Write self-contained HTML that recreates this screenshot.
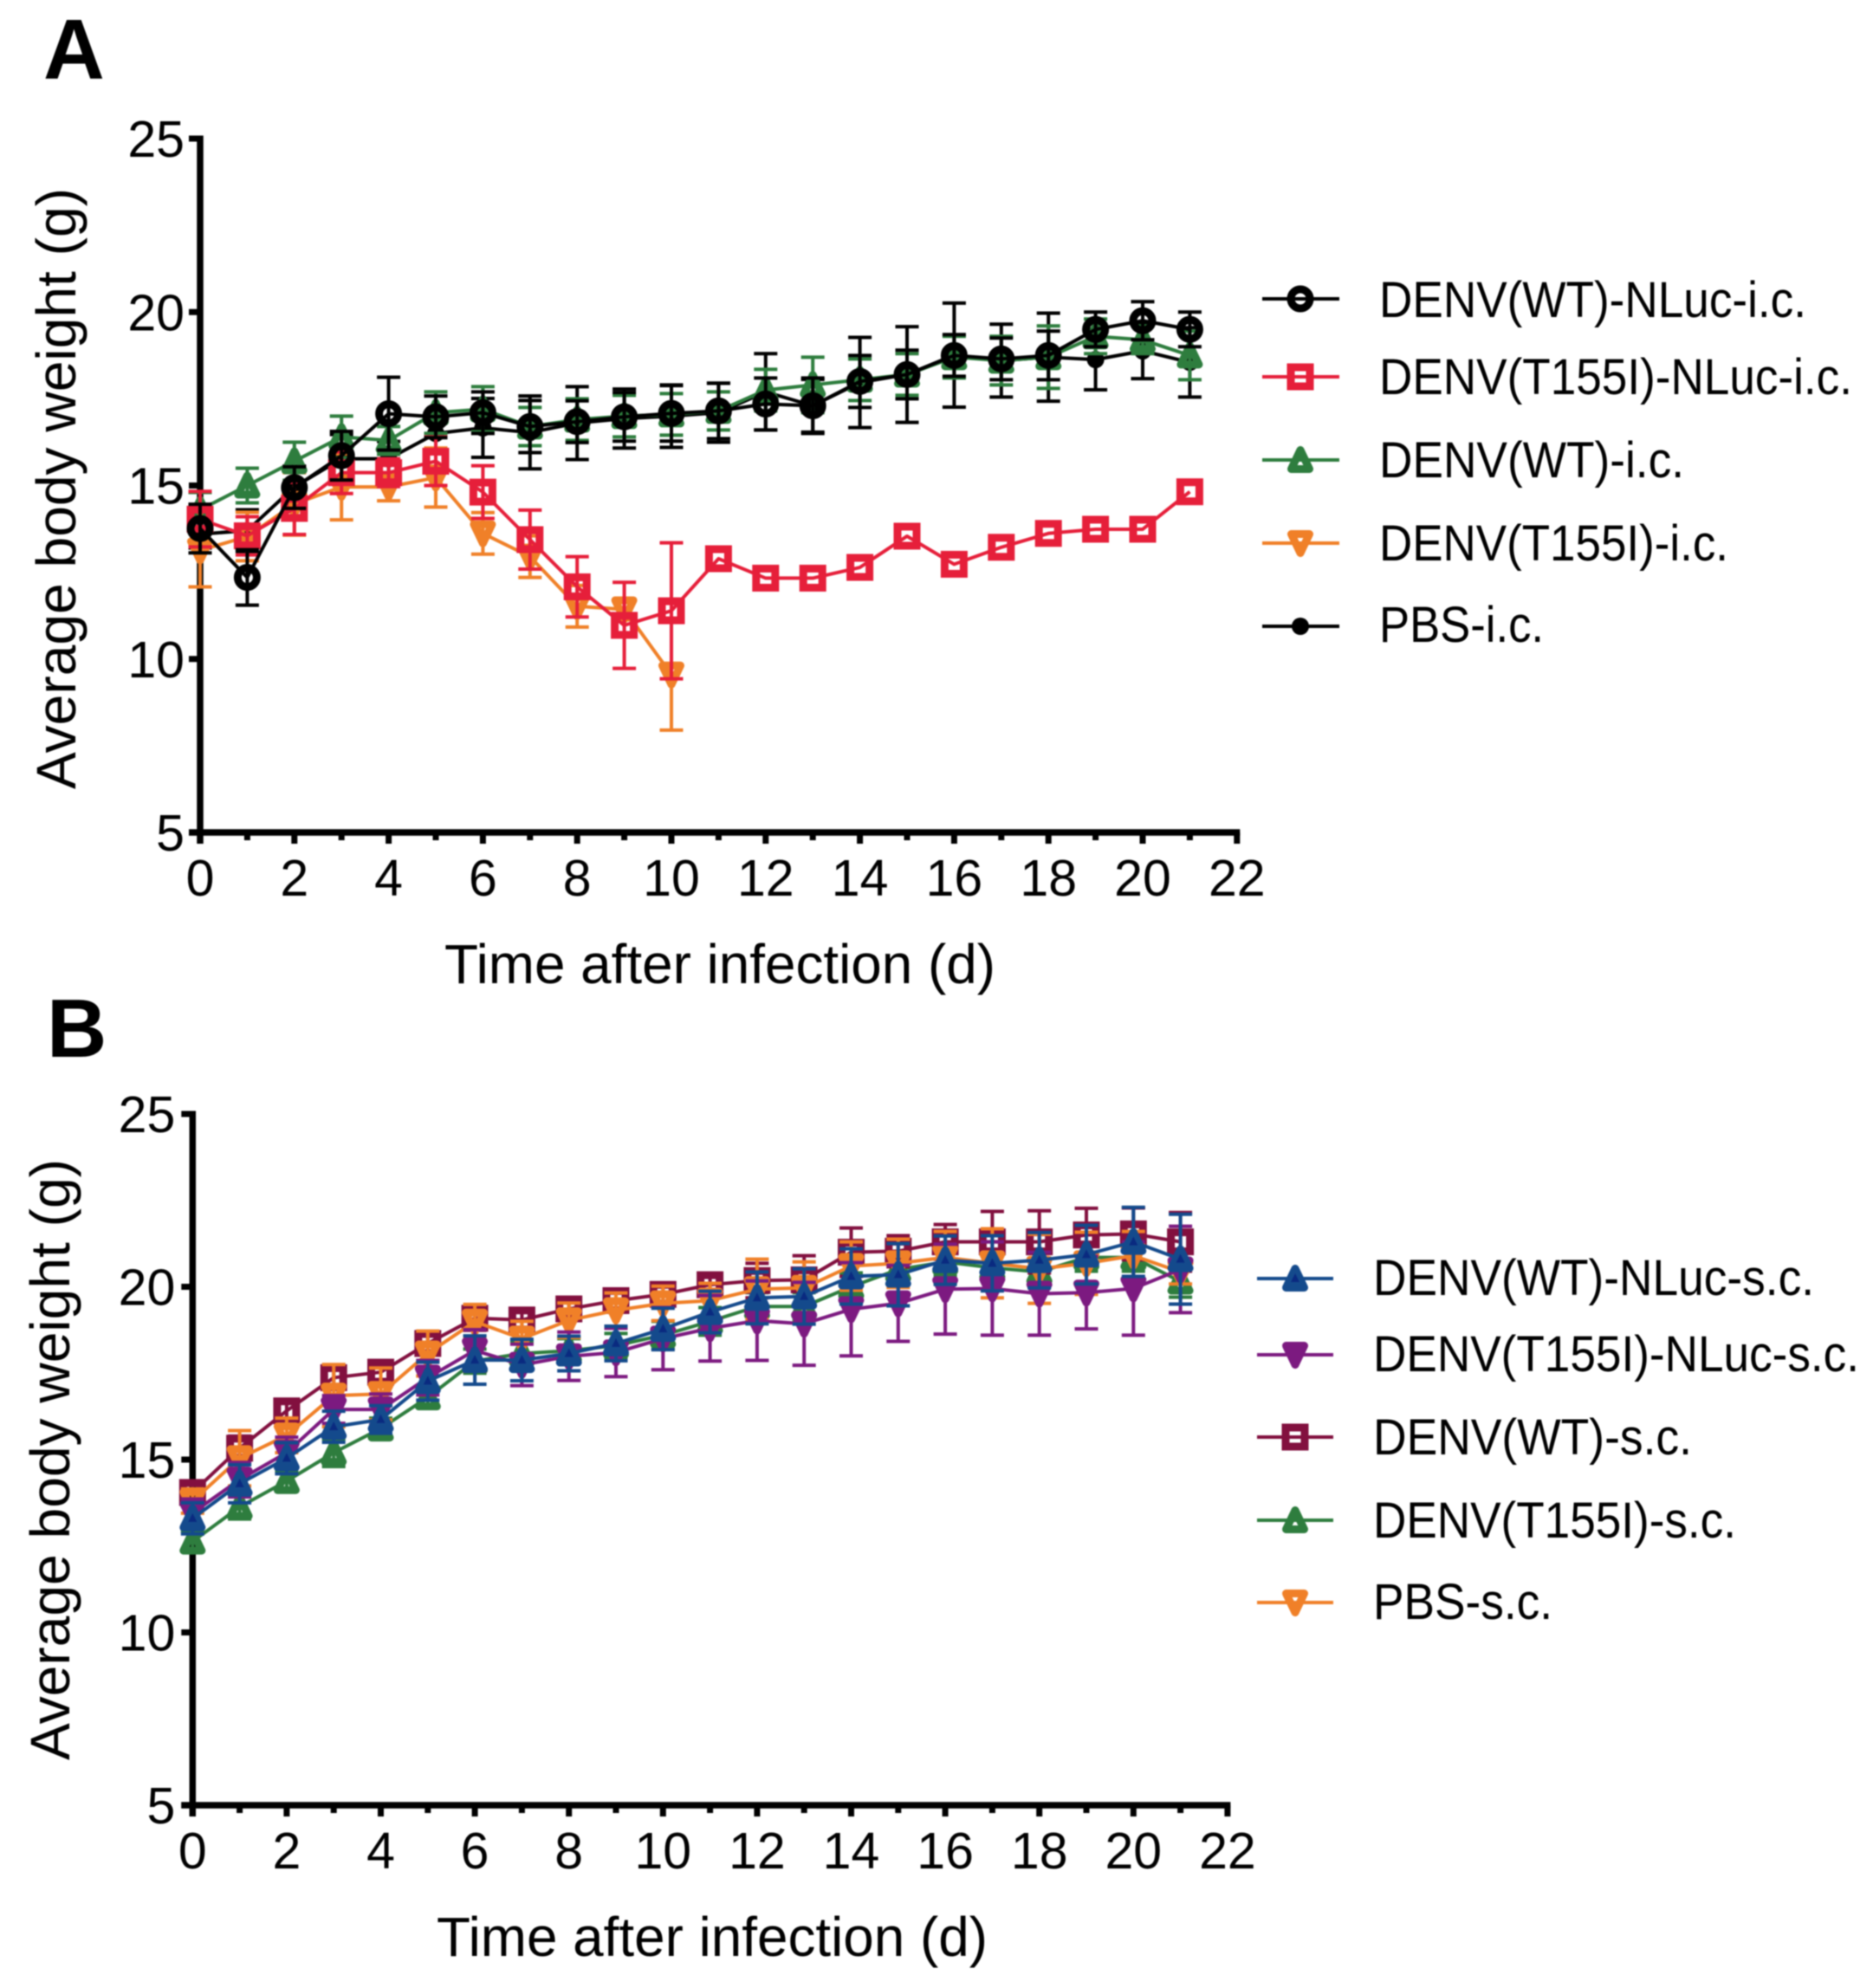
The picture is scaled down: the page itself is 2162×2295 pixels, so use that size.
<!DOCTYPE html>
<html lang="en">
<head>
<meta charset="utf-8">
<title>Average body weight after infection</title>
<style>
html,body{margin:0;padding:0;background:#fff;}
svg{display:block;font-family:"Liberation Sans",Arial,sans-serif;filter:blur(0.7px);}
</style>
</head>
<body>
<svg id="fig" xmlns="http://www.w3.org/2000/svg" width="2162" height="2295" viewBox="0 0 2162 2295">
  <rect x="0" y="0" width="2162" height="2295" fill="#fff"/>
  <text x="50" y="91" font-size="98" font-weight="700" fill="#000">A</text>
  <text x="54" y="1220" font-size="96" font-weight="700" fill="#000">B</text>

  <g id="chartA"></g>
  <g id="chartB"></g>

  <g font-size="58" fill="#000">
    <g>
      <line x1="1457" x2="1546" y1="345" y2="345" stroke="#000" stroke-width="4"/>
      <g class="lm" data-x="1501" data-y="345" data-shape="circle" data-color="#000"></g>
      <text x="1592" y="366" textLength="493" lengthAdjust="spacingAndGlyphs">DENV(WT)-NLuc-i.c.</text>
    </g>
    <g>
      <line x1="1457" x2="1546" y1="435" y2="435" stroke="#e61f3a" stroke-width="4"/>
      <g class="lm" data-x="1501" data-y="435" data-shape="square" data-color="#e61f3a"></g>
      <text x="1592" y="455" textLength="546" lengthAdjust="spacingAndGlyphs">DENV(T155I)-NLuc-i.c.</text>
    </g>
    <g>
      <line x1="1457" x2="1546" y1="531" y2="531" stroke="#2e7d3e" stroke-width="4"/>
      <g class="lm" data-x="1501" data-y="531" data-shape="tri-up" data-color="#2e7d3e"></g>
      <text x="1592" y="551" textLength="352" lengthAdjust="spacingAndGlyphs">DENV(WT)-i.c.</text>
    </g>
    <g>
      <line x1="1457" x2="1546" y1="627" y2="627" stroke="#f08028" stroke-width="4"/>
      <g class="lm" data-x="1501" data-y="627" data-shape="tri-down" data-color="#f08028"></g>
      <text x="1592" y="647" textLength="403" lengthAdjust="spacingAndGlyphs">DENV(T155I)-i.c.</text>
    </g>
    <g>
      <line x1="1457" x2="1546" y1="723" y2="723" stroke="#000" stroke-width="4"/>
      <g class="lm" data-x="1501" data-y="723" data-shape="dot" data-color="#000"></g>
      <text x="1592" y="741" textLength="190" lengthAdjust="spacingAndGlyphs">PBS-i.c.</text>
    </g>
  </g>

  <g font-size="58" fill="#000">
    <g>
      <line x1="1451" x2="1539" y1="1476" y2="1476" stroke="#144a8c" stroke-width="4"/>
      <g class="lm" data-x="1495" data-y="1476" data-shape="tri-up-solid" data-color="#144a8c"></g>
      <text x="1585" y="1495" textLength="509" lengthAdjust="spacingAndGlyphs">DENV(WT)-NLuc-s.c.</text>
    </g>
    <g>
      <line x1="1451" x2="1539" y1="1564" y2="1564" stroke="#7c1a80" stroke-width="4"/>
      <g class="lm" data-x="1495" data-y="1564" data-shape="tri-down-solid" data-color="#7c1a80"></g>
      <text x="1585" y="1583" textLength="561" lengthAdjust="spacingAndGlyphs">DENV(T155I)-NLuc-s.c.</text>
    </g>
    <g>
      <line x1="1451" x2="1539" y1="1659" y2="1659" stroke="#82103f" stroke-width="4"/>
      <g class="lm" data-x="1495" data-y="1659" data-shape="square" data-color="#82103f"></g>
      <text x="1585" y="1679" textLength="368" lengthAdjust="spacingAndGlyphs">DENV(WT)-s.c.</text>
    </g>
    <g>
      <line x1="1451" x2="1539" y1="1755" y2="1755" stroke="#2e7d3e" stroke-width="4"/>
      <g class="lm" data-x="1495" data-y="1755" data-shape="tri-up" data-color="#2e7d3e"></g>
      <text x="1585" y="1775" textLength="419" lengthAdjust="spacingAndGlyphs">DENV(T155I)-s.c.</text>
    </g>
    <g>
      <line x1="1451" x2="1539" y1="1850" y2="1850" stroke="#f08028" stroke-width="4"/>
      <g class="lm" data-x="1495" data-y="1850" data-shape="tri-down" data-color="#f08028"></g>
      <text x="1585" y="1869" textLength="207" lengthAdjust="spacingAndGlyphs">PBS-s.c.</text>
    </g>
  </g>
</svg>

<script>
// Shared axis data
const days = [0,1,2,3,4,5,6,7,8,9,10,11,12,13,14,15,16,17,18,19,20,21];
const xTickValues = [0,1,2,3,4,5,6,7,8,9,10,11,12,13,14,15,16,17,18,19,20,21,22];
const yTickValues = [5,10,15,20,25];
const xAxisTitle = "Time after infection (d)";
const yAxisTitle = "Average body weight (g)";

// Panel A values (g)
const aWtNlucMean = [13.76,12.35,14.94,15.86,17.07,16.98,17.1,16.7,16.84,16.98,17.08,17.15,17.35,17.3,18.0,18.2,18.75,18.65,18.75,19.5,19.75,19.5];
const aWtNlucErr  = [0.7,0.8,0.6,0.7,1.05,0.6,0.6,0.75,0.6,0.7,0.8,0.8,0.75,0.8,0.75,0.7,0.6,0.6,0.7,0.5,0.55,0.5];
const aT155NlucMean = [14.03,13.55,14.34,15.37,15.37,15.7,14.81,13.44,12.08,10.97,11.39,12.89,12.33,12.33,12.64,13.54,12.73,13.22,13.62,13.74,13.74,14.82];
const aT155NlucErr  = [0.8,0.55,0.75,0.6,0.4,0.7,0.76,0.85,0.87,1.24,1.96,0,0,0,0,0,0,0,0,0,0,0];
const aWtMean = [14.3,15.0,15.7,16.4,16.3,17.1,17.2,16.7,16.9,17.0,17.05,17.15,17.75,17.9,18.05,18.2,18.7,18.6,18.7,19.3,19.2,18.75];
const aWtErr  = [0.5,0.5,0.55,0.6,0.4,0.6,0.65,0.55,0.6,0.6,0.6,0.55,0.6,0.8,0.6,0.6,0.6,0.7,0.9,0.5,0.4,0.7];
const aT155Mean = [13.13,13.53,14.47,14.96,14.96,15.23,13.62,12.95,11.52,11.43,9.55];
const aT155Err  = [1.05,0.7,0.9,0.95,0.4,0.85,0.6,0.6,0.6,0.3,1.6];
const aPbsMean = [13.6,13.7,14.96,15.77,15.77,16.5,16.66,16.53,16.8,16.93,17.0,17.1,17.7,17.3,17.97,18.2,18.76,18.6,18.7,18.63,18.88,18.55];
const aPbsErr  = [0.4,0.6,0.6,0.7,0.5,0.5,0.85,1.05,1.05,0.85,0.9,0.85,1.1,0.76,1.3,1.38,1.5,1.05,1.27,0.87,0.8,1.0];

// Panel B values (g)
const bWtNlucMean = [13.3,14.3,15.04,15.95,16.16,17.27,17.88,17.88,18.07,18.36,18.78,19.27,19.68,19.72,20.3,20.35,20.77,20.68,20.77,20.93,21.3,20.8];
const bWtNlucErr  = [0.45,0.55,0.45,0.45,0.4,0.55,0.7,0.6,0.5,0.5,0.6,0.6,0.75,0.8,0.8,0.9,0.7,0.8,0.8,0.85,1.0,1.3];
const bT155NlucMean = [13.46,14.42,15.2,16.45,16.45,17.37,18.16,17.74,17.99,18.1,18.5,18.8,19.02,18.93,19.35,19.52,19.93,19.95,19.8,19.83,19.95,20.5];
const bT155NlucErr  = [0.4,0.5,0.45,0.4,0.45,0.5,0.6,0.6,0.7,0.7,0.9,0.95,1.15,1.2,1.35,1.1,1.3,1.35,1.2,1.05,1.35,1.25];
const bWtMean = [14.05,15.33,16.41,17.37,17.53,18.36,19.09,19.04,19.36,19.6,19.78,20.06,20.18,20.2,21.0,21.03,21.3,21.3,21.3,21.5,21.53,21.3];
const bWtErr  = [0.3,0.35,0.3,0.3,0.3,0.3,0.35,0.3,0.3,0.3,0.3,0.3,0.5,0.7,0.7,0.45,0.5,0.88,0.9,0.77,0.75,0.85];
const bT155Mean = [12.63,13.63,14.38,15.2,15.9,16.8,17.85,18.07,18.15,18.3,18.6,19.0,19.43,19.43,20.0,20.5,20.72,20.55,20.43,20.85,20.85,20.15];
const bT155Err  = [0.3,0.35,0.3,0.4,0.3,0.3,0.35,0.35,0.35,0.35,0.4,0.4,0.4,0.4,0.4,0.4,0.4,0.4,0.4,0.4,0.4,0.45];
const bPbsMean = [13.8,15.04,15.7,16.85,16.9,18.07,18.99,18.5,19.03,19.32,19.52,19.6,19.93,19.97,20.6,20.68,20.85,20.68,20.52,20.68,20.9,20.43];
const bPbsErr  = [0.35,0.8,0.5,0.9,0.75,0.65,0.5,0.5,0.5,0.5,0.5,0.5,0.87,0.75,0.7,0.7,0.75,1.0,1.0,0.9,0.7,0.35];

const SVGNS = "http://www.w3.org/2000/svg";
function mk(tag, attrs, parent){
  const el = document.createElementNS(SVGNS, tag);
  for (const k in attrs) el.setAttribute(k, attrs[k]);
  parent.appendChild(el);
  return el;
}

function drawMarker(parent, shape, cx, cy, color){
  let m;
  if (shape === "circle") {
    m = mk("circle", {cx:cx, cy:cy, r:11, fill:"none", stroke:color, "stroke-width":9}, parent);
  } else if (shape === "dot") {
    m = mk("circle", {cx:cx, cy:cy, r:10, fill:color}, parent);
  } else if (shape === "square") {
    m = mk("rect", {x:cx-11, y:cy-11, width:22, height:22, fill:"none", stroke:color, "stroke-width":9}, parent);
  } else {
    const up = shape.indexOf("tri-up") === 0;
    const solid = shape.indexOf("solid") > 0;
    const s = up ? 1 : -1;
    const pts = [[cx, cy-11.5*s],[cx-10.5, cy+10.5*s],[cx+10.5, cy+10.5*s]].map(p => p.join(",")).join(" ");
    m = mk("polygon", {points:pts, fill:solid ? color : "none", stroke:color, "stroke-width":9, "stroke-linejoin":"round"}, parent);
    if (shape === "tri-up-solid") {
      const innerPts = [[cx, cy-6],[cx-5, cy+4],[cx+5, cy+4]].map(p => p.join(",")).join(" ");
      const inner = mk("polygon", {points:innerPts, fill:"#0a2a80"}, parent);
      
      
    }
  }
  
  
}

function drawSeries(root, xScale, yScale, s){
  const g = mk("g", {}, root);
  
  
  s.mean.forEach(function(v, i){
    const e = s.err[i];
    if (!e) return;
    const x = xScale(days[i]);
    const y1 = yScale(v + e), y2 = yScale(v - e);
    const bar = mk("path", {
      d:"M"+x+" "+y1+"V"+y2+"M"+(x-13.5)+" "+y1+"H"+(x+13.5)+"M"+(x-13.5)+" "+y2+"H"+(x+13.5),
      fill:"none", stroke:s.color, "stroke-width":4
    }, g);
    
    
  });
  const d = s.mean.map((v,i) => (i ? "L" : "M") + xScale(days[i]) + " " + yScale(v)).join("");
  const line = mk("path", {d:d, fill:"none", stroke:s.color, "stroke-width":4, "stroke-linejoin":"round"}, g);
  
  
  s.mean.forEach(function(v, i){
    const pt = mk("g", {}, g);
    
    
    drawMarker(pt, s.shape, xScale(days[i]), yScale(v), s.color);
  });
}

function drawPanel(root, cfg){
  const xScale = d => cfg.x0 + d * cfg.xUnit;
  const yScale = v => cfg.y5 - (v - 5) * cfg.yUnit;

  const axes = mk("g", {}, root);
  
  

  const yAxis = mk("line", {x1:cfg.x0, x2:cfg.x0, y1:yScale(25)-3.5, y2:cfg.y5+13, stroke:"#000", "stroke-width":7.5}, axes);
  
  
  const xAxis = mk("line", {x1:cfg.x0-13, x2:xScale(22)+3.5, y1:cfg.y5, y2:cfg.y5, stroke:"#000", "stroke-width":7.5}, axes);
  
  

  yTickValues.forEach(function(v){
    const y = yScale(v);
    const t = mk("line", {x1:cfg.x0-13, x2:cfg.x0, y1:y, y2:y, stroke:"#000", "stroke-width":7}, axes);
    
    
    const lb = mk("text", {x:cfg.x0-cfg.yLabelGap, y:y+21, "text-anchor":"end", "font-size":59, fill:"#000"}, axes);
    lb.textContent = v;
    
    
  });

  xTickValues.forEach(function(d){
    const x = xScale(d);
    const major = d % 2 === 0;
    const t = mk("line", {x1:x, x2:x, y1:cfg.y5, y2:cfg.y5+(major?13:9), stroke:"#000", "stroke-width":7}, axes);
    
    
    if (major) {
      const lb = mk("text", {x:x, y:cfg.y5+73, "text-anchor":"middle", "font-size":59, fill:"#000"}, axes);
      lb.textContent = d;
      
      
    }
  });

  const xt = mk("text", {x:cfg.xTitleX, y:cfg.xTitleY, "text-anchor":"middle", "font-size":64, fill:"#000", textLength:cfg.xTitleLen, lengthAdjust:"spacingAndGlyphs"}, axes);
  xt.textContent = xAxisTitle;
  
  

  const yt = mk("text", {transform:"translate("+cfg.yTitleX+" "+cfg.yTitleY+") rotate(-90)", x:0, y:0, "text-anchor":"middle", "font-size":64, fill:"#000", textLength:694, lengthAdjust:"spacingAndGlyphs"}, axes);
  yt.textContent = yAxisTitle;
  
  

  cfg.series.forEach(s => drawSeries(root, xScale, yScale, s));
}

drawPanel(document.getElementById("chartA"), {
  x0:231, xUnit:54.4, y5:961, yUnit:40.05, yLabelGap:18,
  xTitleX:831, xTitleY:1135, xTitleLen:636, yTitleX:87, yTitleY:564,
  series:[
    {name:"pbs-ic", mean:aPbsMean, err:aPbsErr, color:"#000", shape:"dot"},
    {name:"denv-t155i-ic", mean:aT155Mean, err:aT155Err, color:"#f08028", shape:"tri-down"},
    {name:"denv-wt-ic", mean:aWtMean, err:aWtErr, color:"#2e7d3e", shape:"tri-up"},
    {name:"denv-t155i-nluc-ic", mean:aT155NlucMean, err:aT155NlucErr, color:"#e61f3a", shape:"square"},
    {name:"denv-wt-nluc-ic", mean:aWtNlucMean, err:aWtNlucErr, color:"#000", shape:"circle"}
  ]
});

drawPanel(document.getElementById("chartB"), {
  x0:222.3, xUnit:54.3, y5:2084, yUnit:39.9, yLabelGap:20,
  xTitleX:822, xTitleY:2258, xTitleLen:636, yTitleX:80, yTitleY:1685,
  series:[
    {name:"denv-t155i-sc", mean:bT155Mean, err:bT155Err, color:"#2e7d3e", shape:"tri-up"},
    {name:"denv-wt-sc", mean:bWtMean, err:bWtErr, color:"#82103f", shape:"square"},
    {name:"pbs-sc", mean:bPbsMean, err:bPbsErr, color:"#f08028", shape:"tri-down"},
    {name:"denv-t155i-nluc-sc", mean:bT155NlucMean, err:bT155NlucErr, color:"#7c1a80", shape:"tri-down-solid"},
    {name:"denv-wt-nluc-sc", mean:bWtNlucMean, err:bWtNlucErr, color:"#144a8c", shape:"tri-up-solid"}
  ]
});

document.querySelectorAll(".lm").forEach(function(g){
  drawMarker(g, g.dataset.shape, +g.dataset.x, +g.dataset.y, g.dataset.color);
});
</script>
</body>
</html>
